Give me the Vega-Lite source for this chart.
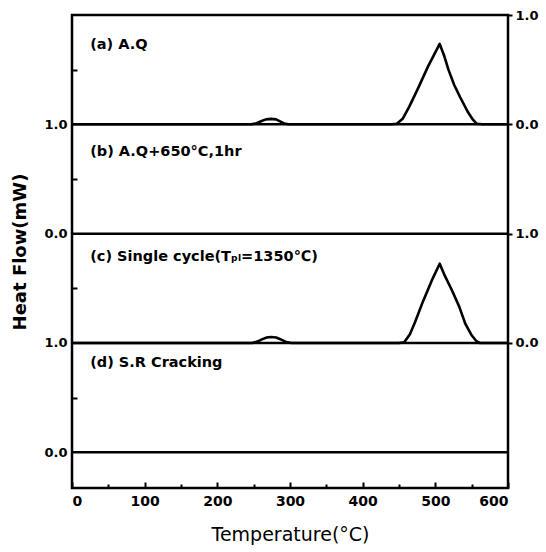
{
  "$schema": "https://vega.github.io/schema/vega-lite/v6.json",
  "width": 436,
  "height": 473,
  "autosize": {"type": "none"},
  "padding": {"left": 72, "top": 15, "right": 38, "bottom": 64},
  "background": "white",
  "config": {
    "view": {"stroke": "black", "strokeWidth": 2.5},
    "font": "DejaVu Sans",
    "axis": {
      "grid": false,
      "domain": false,
      "labelFont": "DejaVu Sans",
      "labelFontWeight": "bold",
      "labelColor": "black",
      "tickColor": "black",
      "tickWidth": 2,
      "titleColor": "black",
      "titleFont": "DejaVu Sans"
    }
  },
  "datasets": {
    "baselines": [
      {"panel": "(a)", "level": 3},
      {"panel": "(b)", "level": 2},
      {"panel": "(c)", "level": 1},
      {"panel": "(d)", "level": 0}
    ],
    "curves": [
      {"panel": "(a)", "t": 0, "y": 3},
      {"panel": "(a)", "t": 247, "y": 3},
      {"panel": "(a)", "t": 254, "y": 3.01},
      {"panel": "(a)", "t": 261, "y": 3.03},
      {"panel": "(a)", "t": 267, "y": 3.045},
      {"panel": "(a)", "t": 274, "y": 3.05},
      {"panel": "(a)", "t": 281, "y": 3.045},
      {"panel": "(a)", "t": 287, "y": 3.025},
      {"panel": "(a)", "t": 292, "y": 3.008},
      {"panel": "(a)", "t": 298, "y": 3},
      {"panel": "(a)", "t": 440, "y": 3},
      {"panel": "(a)", "t": 447, "y": 3.005},
      {"panel": "(a)", "t": 455, "y": 3.05},
      {"panel": "(a)", "t": 464, "y": 3.16},
      {"panel": "(a)", "t": 477, "y": 3.34},
      {"panel": "(a)", "t": 490, "y": 3.53},
      {"panel": "(a)", "t": 506, "y": 3.735},
      {"panel": "(a)", "t": 512, "y": 3.63},
      {"panel": "(a)", "t": 518, "y": 3.5},
      {"panel": "(a)", "t": 526, "y": 3.36},
      {"panel": "(a)", "t": 534, "y": 3.25},
      {"panel": "(a)", "t": 545, "y": 3.11},
      {"panel": "(a)", "t": 552, "y": 3.04},
      {"panel": "(a)", "t": 557, "y": 3.005},
      {"panel": "(a)", "t": 565, "y": 3},
      {"panel": "(a)", "t": 600, "y": 3},
      {"panel": "(c)", "t": 0, "y": 1},
      {"panel": "(c)", "t": 248, "y": 1},
      {"panel": "(c)", "t": 255, "y": 1.012},
      {"panel": "(c)", "t": 262, "y": 1.035},
      {"panel": "(c)", "t": 268, "y": 1.05},
      {"panel": "(c)", "t": 274, "y": 1.055},
      {"panel": "(c)", "t": 281, "y": 1.05},
      {"panel": "(c)", "t": 288, "y": 1.03},
      {"panel": "(c)", "t": 295, "y": 1.008},
      {"panel": "(c)", "t": 302, "y": 1},
      {"panel": "(c)", "t": 450, "y": 1},
      {"panel": "(c)", "t": 457, "y": 1.005},
      {"panel": "(c)", "t": 465, "y": 1.08},
      {"panel": "(c)", "t": 472, "y": 1.19},
      {"panel": "(c)", "t": 483, "y": 1.38},
      {"panel": "(c)", "t": 495, "y": 1.57},
      {"panel": "(c)", "t": 506, "y": 1.725},
      {"panel": "(c)", "t": 512, "y": 1.63},
      {"panel": "(c)", "t": 523, "y": 1.48},
      {"panel": "(c)", "t": 533, "y": 1.33},
      {"panel": "(c)", "t": 541, "y": 1.18},
      {"panel": "(c)", "t": 550, "y": 1.07},
      {"panel": "(c)", "t": 556, "y": 1.02},
      {"panel": "(c)", "t": 561, "y": 1},
      {"panel": "(c)", "t": 600, "y": 1}
    ],
    "labels": [
      {"panel": "(a)", "label": "(a) A.Q", "t": 25, "y": 3.73},
      {"panel": "(b)", "label": "(b) A.Q+650°C,1hr", "t": 25, "y": 2.75},
      {"panel": "(c)", "label": "(c) Single cycle(Tₚₗ=1350℃)", "t": 25, "y": 1.79},
      {"panel": "(d)", "label": "(d) S.R Cracking", "t": 25, "y": 0.82}
    ]
  },
  "layer": [
    {
      "data": {"name": "baselines"},
      "mark": {"type": "rule", "strokeWidth": 2.5, "color": "black"},
      "encoding": {
        "y": {
          "field": "level",
          "type": "quantitative",
          "scale": {"domain": [-0.327, 4], "nice": false, "zero": false},
          "axis": {
            "orient": "left",
            "values": [0, 1, 2, 3],
            "labelExpr": "datum.value % 2 == 1 ? '1.0' : '0.0'",
            "tickSize": 0,
            "labelPadding": 5,
            "labelFontSize": 13,
            "title": "Heat Flow(mW)",
            "titleFontSize": 18,
            "titleFontWeight": "bold",
            "titlePadding": 14
          }
        }
      }
    },
    {
      "data": {"name": "curves"},
      "mark": {"type": "line", "strokeWidth": 2.6, "color": "black", "strokeJoin": "round"},
      "encoding": {
        "x": {
          "field": "t",
          "type": "quantitative",
          "scale": {"domain": [0, 600], "nice": false, "zero": false},
          "axis": {
            "orient": "bottom",
            "values": [0, 100, 200, 300, 400, 500, 600],
            "tickSize": -6,
            "labelPadding": 12,
            "labelFontSize": 14,
            "title": "Temperature(°C)",
            "titleFontSize": 19,
            "titleFontWeight": "normal",
            "titlePadding": 17
          }
        },
        "y": {
          "field": "y",
          "type": "quantitative",
          "axis": {
            "orient": "right",
            "values": [1, 2, 3, 4],
            "labelExpr": "datum.value % 2 == 0 ? '1.0' : '0.0'",
            "tickSize": 4,
            "labelPadding": 3,
            "labelFontSize": 13,
            "title": null
          }
        },
        "detail": {"field": "panel"}
      }
    },
    {
      "data": {"name": "labels"},
      "mark": {"type": "text", "align": "left", "baseline": "middle", "fontSize": 14.5, "fontWeight": "bold", "font": "DejaVu Sans", "color": "black"},
      "encoding": {
        "x": {
          "field": "t",
          "type": "quantitative",
          "axis": {
            "orient": "bottom",
            "values": [50, 150, 250, 350, 450, 550],
            "tickSize": -4,
            "labels": false,
            "title": null
          }
        },
        "y": {
          "field": "y",
          "type": "quantitative",
          "axis": {
            "orient": "left",
            "values": [0.5, 1.5, 2.5, 3.5],
            "tickSize": -5,
            "labels": false,
            "title": null
          }
        },
        "text": {"field": "label"}
      }
    }
  ],
  "resolve": {"axis": {"x": "independent", "y": "independent"}}
}
